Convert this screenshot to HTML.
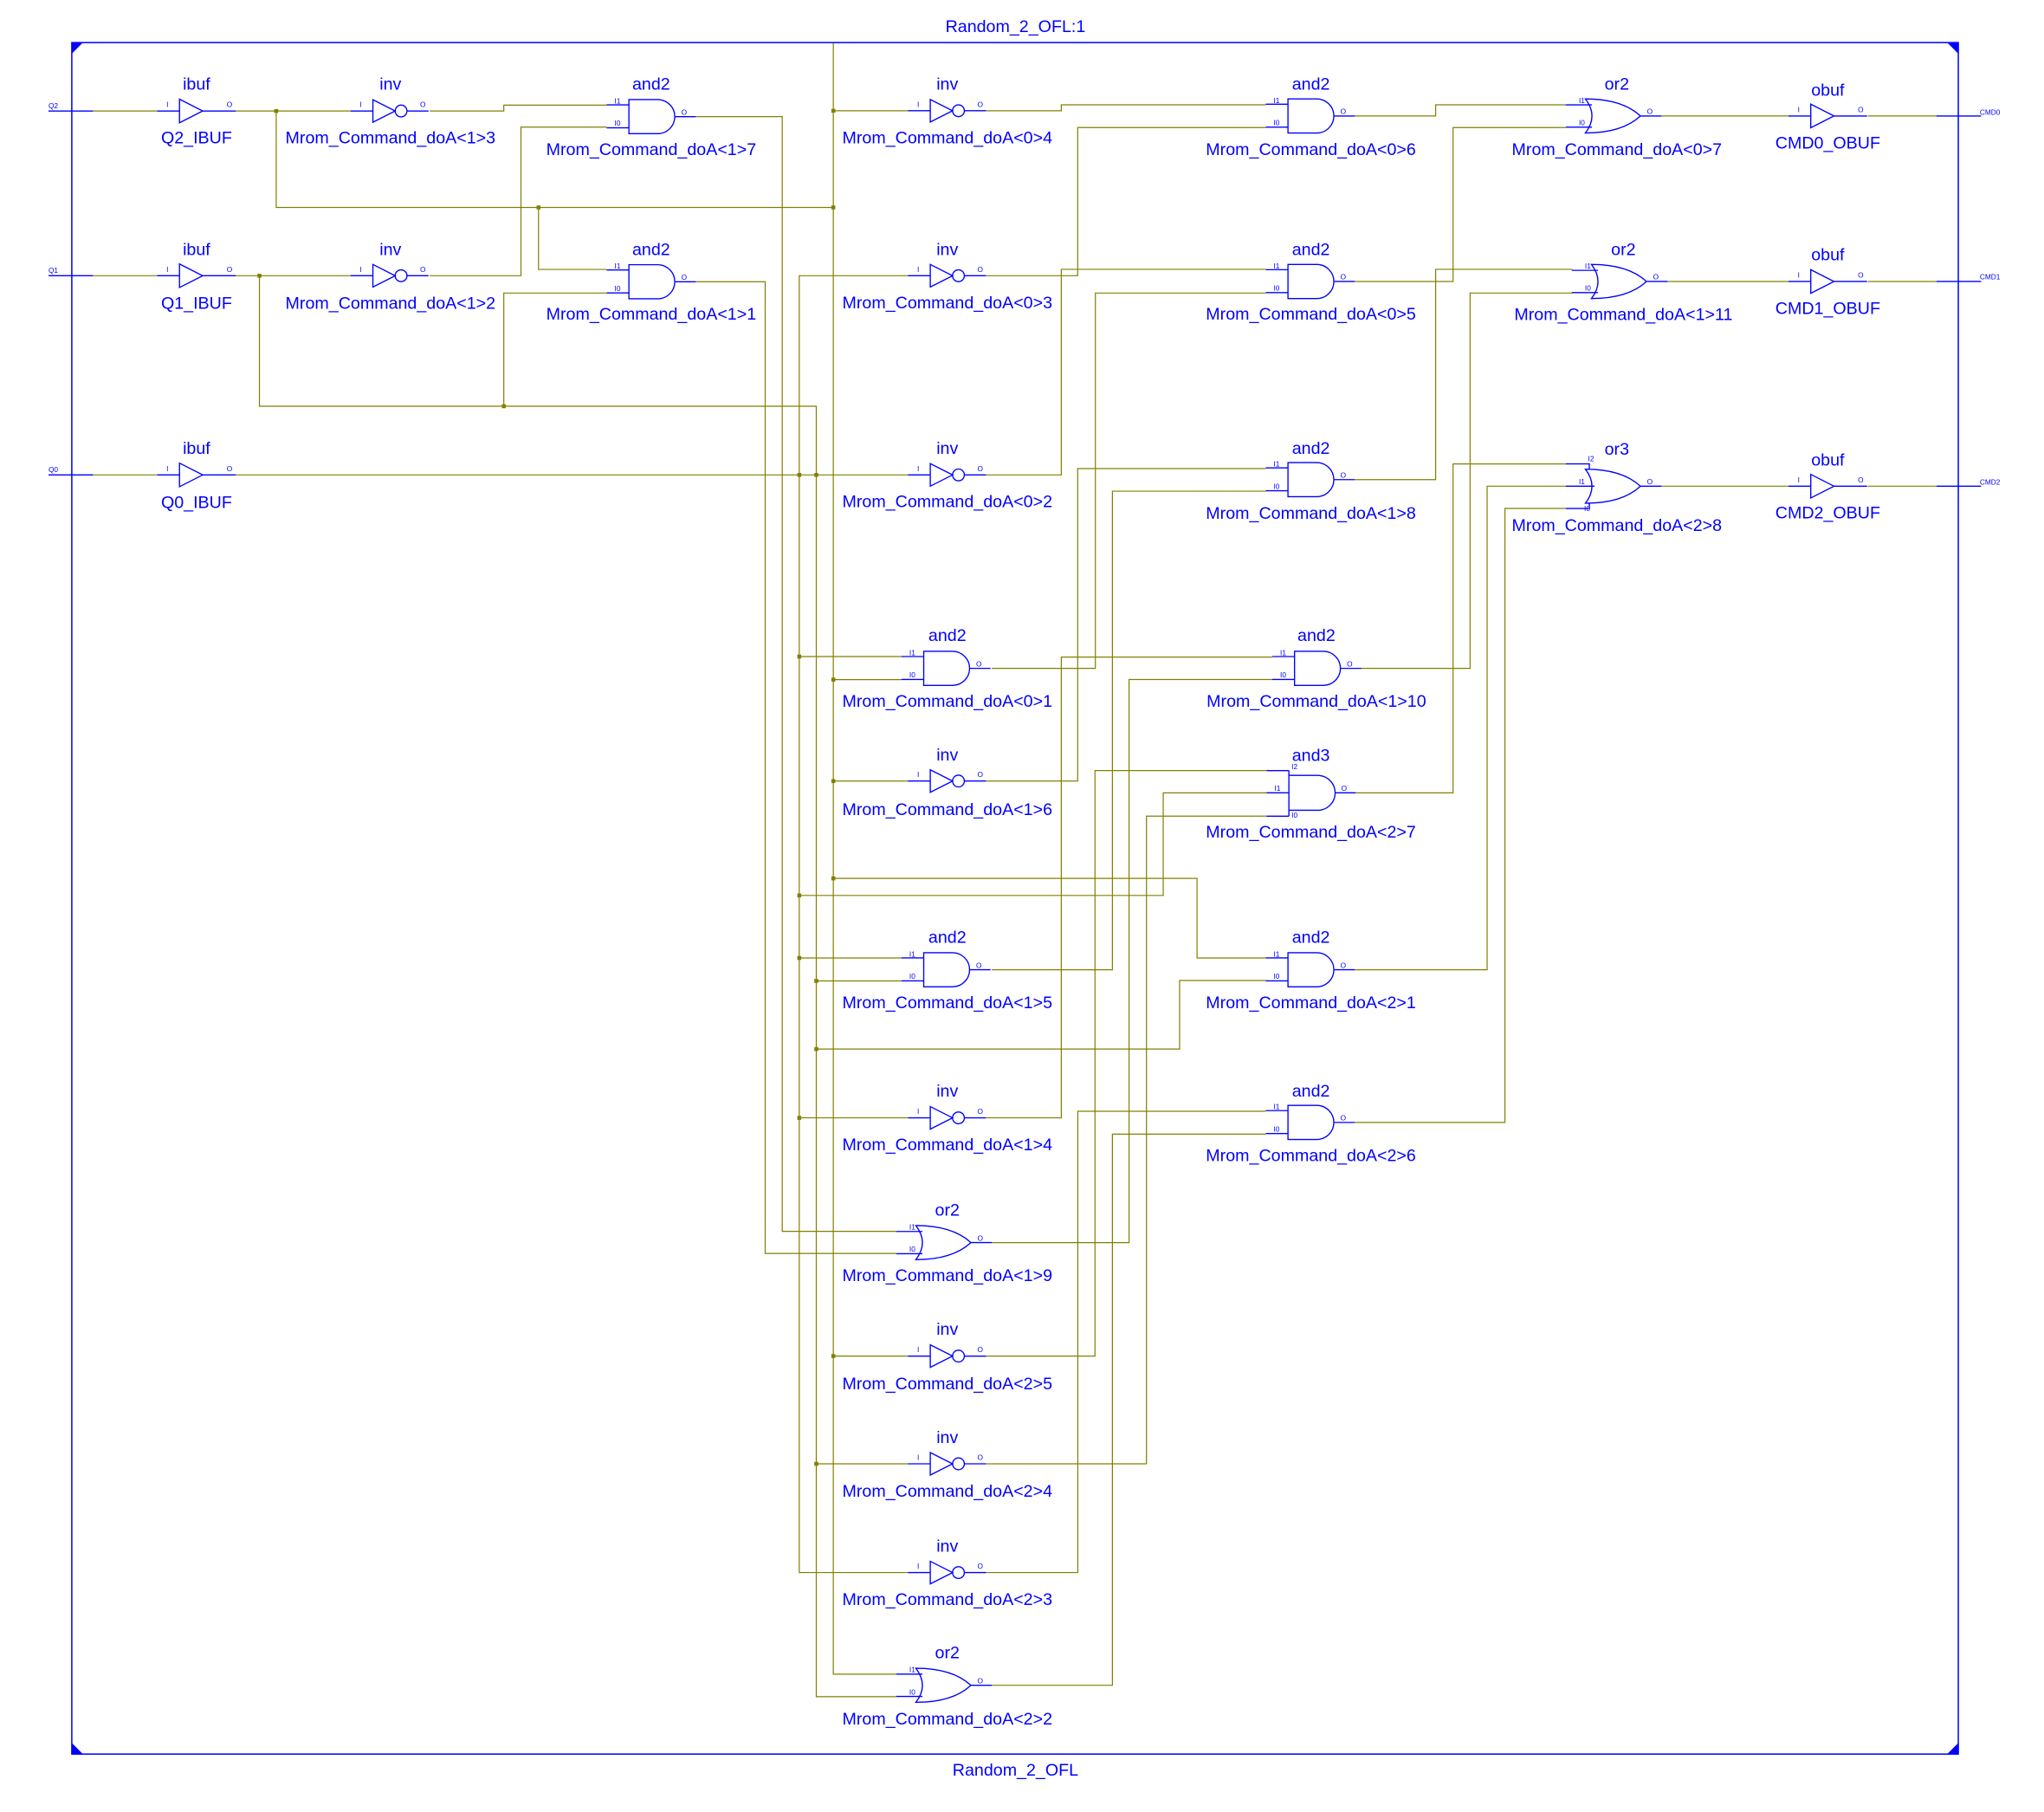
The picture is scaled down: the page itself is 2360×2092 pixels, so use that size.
<!DOCTYPE html>
<html><head><meta charset="utf-8"><style>
html,body{margin:0;padding:0;background:#fff}
svg{display:block}
text{font-family:"Liberation Sans",Arial,sans-serif;fill:#0000ff}
.t{font-size:13px;text-anchor:middle}
.p{font-size:5.5px}
.w{fill:none;stroke:#808000;stroke-width:0.8}
.b{fill:none;stroke:#0000ff;stroke-width:0.9}
.d{fill:#808000}
</style></head><body>
<svg width="2360" height="2092" viewBox="0 0 1560 1382.7" preserveAspectRatio="none" xmlns="http://www.w3.org/2000/svg">
<defs>
<g id="and2"><path class="b" d="M0,-13 H22 A13 13 0 0 1 22,13 H0 Z M-17,-9H0 M-17,8.5H0 M35,0H51"/><text class="p" x="-11" y="-10">I1</text><text class="p" x="-11" y="7">I0</text><text class="p" x="40" y="-1.5">O</text></g>
<g id="and3"><path class="b" d="M0,-13.3 H22 A13.3 13.3 0 0 1 22,13.3 H0 Z M0,-17 V17.8 M-17,-17H0 M-17,0H0 M-17,17.8H0 M35,0H51"/><text class="p" x="2" y="-18">I2</text><text class="p" x="-11" y="-1.5">I1</text><text class="p" x="2" y="19">I0</text><text class="p" x="40" y="-1.5">O</text></g>
<g id="or2"><path class="b" d="M-2,-13 Q8,0 -2,13 Q26,13 40,0 Q26,-13 -2,-13 Z M-17,-8.5H3 M-17,8.5H3 M40,0H56"/><text class="p" x="-7" y="-10">I1</text><text class="p" x="-7" y="7">I0</text><text class="p" x="45" y="-1.5">O</text></g>
<g id="or3"><path class="b" d="M-2,-13 Q8,0 -2,13 Q26,13 40,0 Q26,-13 -2,-13 Z M-17,-17H1V-13 M-17,0H5 M-17,17H1V13 M40,0H56"/><text class="p" x="0" y="-19">I2</text><text class="p" x="-7" y="-1.5">I1</text><text class="p" x="-3" y="19">I0</text><text class="p" x="45" y="-1.5">O</text></g>
<g id="buf"><path class="b" d="M0,-9 L17.7,0 L0,9 Z M-17,0H0 M17.7,0H43"/><text class="p" x="-10" y="-3">I</text><text class="p" x="36" y="-3">O</text></g>
<g id="inv"><path class="b" d="M0,-8.6 L17,0 L0,8.6 Z M-17,0H0 M26,0H42.5"/><circle class="b" cx="21.5" cy="0" r="4.5"/><text class="p" x="-10" y="-3">I</text><text class="p" x="36" y="-3">O</text></g>
</defs>

<!-- frame -->
<rect x="54.8" y="32.5" width="1439.8" height="1306" fill="none" stroke="#0000ff" stroke-width="1"/>
<path fill="#0000ff" d="M54.8,32.5 h8.5 L54.8,41 Z M1494.6,32.5 h-8.5 L1494.6,41 Z M54.8,1338.5 h8.5 L54.8,1330 Z M1494.6,1338.5 h-8.5 L1494.6,1330 Z"/>
<text class="t" x="775" y="24.5">Random_2_OFL:1</text>
<text class="t" x="775" y="1355">Random_2_OFL</text>

<!-- input/output port lines -->
<path class="b" d="M37,84.7H71 M37,210.4H71 M37,362.4H71 M1478,88.5H1512 M1478,214.8H1512 M1478,371H1512"/>
<text class="p" x="37" y="82.5">Q2</text><text class="p" x="37" y="208.2">Q1</text><text class="p" x="37" y="360.2">Q0</text>
<text class="p" x="1511" y="87.5">CMD0</text><text class="p" x="1511" y="213.3">CMD1</text><text class="p" x="1511" y="369.8">CMD2</text>

<!-- wires -->
<path class="w" d="
M71,84.7H120 M71,210.4H120 M71,362.4H120
M180,84.7H267.7 M210.8,84.7V158.3H636 M411,158.3V205.6H463
M636,33V1277.5H684 M636,84.5H693 M636,518.6H688 M636,596H693 M636,670.3H913.6V731H966 M636,1034.8H693
M328,84.7H384.5V80.2H463
M180,210.4H267.7 M198,210.4V310H623V1294.7H684 M384.5,310V223.6H463
M328,210.4H397.6V97H463
M531,89H597V939.6H684
M531,215H584V956.5H684
M180,362.4H693
M693,210.4H610V1200H693 M610,501H688 M610,683.3H887.8V605H966.7 M610,731H688 M610,853H693
M623,748.5H688 M623,800.5H900.3V748.2H966 M623,1117H693
M752.5,84.5H810V80H966
M752.5,210.4H822.5V97.3H966
M752.5,362.4H810V205.5H966
M757,510H836V223.6H966
M752.5,596H822.5V357.6H966
M757,740H849V374.8H966
M752.5,853H810V501.4H971
M757,948.2H861.7V518.5H971
M752.5,1034.8H835.7V588H966.7
M752.5,1117H875V622.8H966.7
M752.5,1200H822.6V848H966
M757,1286H849V865.4H966
M1034,88.5H1095.7V80H1195
M1034,214.8H1109V97.3H1195
M1034,366H1095.7V205.5H1200
M1039,510H1122V223.6H1200
M1034.7,605H1109V354H1195
M1034,740H1135V371H1195
M1034,856.5H1148.6V388H1195
M1268,88.5H1365 M1272.6,214.8H1365 M1268,371H1365
M1425.6,88.5H1478 M1425.6,214.8H1478 M1425.6,371H1478
"/>
<g class="d">
<rect x="209.3" y="83.2" width="3" height="3"/><rect x="409.5" y="156.8" width="3" height="3"/><rect x="634.5" y="156.8" width="3" height="3"/>
<rect x="634.5" y="83" width="3" height="3"/><rect x="634.5" y="517.1" width="3" height="3"/><rect x="634.5" y="594.5" width="3" height="3"/>
<rect x="634.5" y="668.8" width="3" height="3"/><rect x="634.5" y="1033.3" width="3" height="3"/>
<rect x="196.5" y="208.9" width="3" height="3"/><rect x="383" y="308.5" width="3" height="3"/>
<rect x="608.5" y="360.9" width="3" height="3"/><rect x="621.5" y="360.9" width="3" height="3"/>
<rect x="608.5" y="499.5" width="3" height="3"/><rect x="608.5" y="681.8" width="3" height="3"/><rect x="608.5" y="729.5" width="3" height="3"/><rect x="608.5" y="851.5" width="3" height="3"/>
<rect x="621.5" y="747" width="3" height="3"/><rect x="621.5" y="799" width="3" height="3"/><rect x="621.5" y="1115.5" width="3" height="3"/>
</g>

<!-- column 1 -->
<use href="#buf" x="137" y="84.7"/><text class="t" x="150" y="68.5">ibuf</text><text class="t" x="150" y="109.5">Q2_IBUF</text>
<use href="#buf" x="137" y="210.4"/><text class="t" x="150" y="194.5">ibuf</text><text class="t" x="150" y="235.5">Q1_IBUF</text>
<use href="#buf" x="137" y="362.4"/><text class="t" x="150" y="346.5">ibuf</text><text class="t" x="150" y="387.5">Q0_IBUF</text>
<use href="#inv" x="284.6" y="84.7"/><text class="t" x="298" y="68.5">inv</text><text class="t" x="298" y="109.5">Mrom_Command_doA&lt;1&gt;3</text>
<use href="#inv" x="284.6" y="210.4"/><text class="t" x="298" y="194.5">inv</text><text class="t" x="298" y="235.5">Mrom_Command_doA&lt;1&gt;2</text>
<use href="#and2" x="480" y="89"/><text class="t" x="497" y="68.5">and2</text><text class="t" x="497" y="118.3">Mrom_Command_doA&lt;1&gt;7</text>
<use href="#and2" x="480" y="215"/><text class="t" x="497" y="194.5">and2</text><text class="t" x="497" y="244">Mrom_Command_doA&lt;1&gt;1</text>

<!-- column 2 -->
<use href="#inv" x="710" y="84.5"/><text class="t" x="723" y="68.5">inv</text><text class="t" x="723" y="109.5">Mrom_Command_doA&lt;0&gt;4</text>
<use href="#inv" x="710" y="210.4"/><text class="t" x="723" y="194.5">inv</text><text class="t" x="723" y="235.4">Mrom_Command_doA&lt;0&gt;3</text>
<use href="#inv" x="710" y="362.4"/><text class="t" x="723" y="346.5">inv</text><text class="t" x="723" y="387">Mrom_Command_doA&lt;0&gt;2</text>
<use href="#and2" x="705" y="510"/><text class="t" x="723" y="489.2">and2</text><text class="t" x="723" y="539.3">Mrom_Command_doA&lt;0&gt;1</text>
<use href="#inv" x="710" y="596"/><text class="t" x="723" y="580.3">inv</text><text class="t" x="723" y="622">Mrom_Command_doA&lt;1&gt;6</text>
<use href="#and2" x="705" y="740"/><text class="t" x="723" y="719.4">and2</text><text class="t" x="723" y="769.5">Mrom_Command_doA&lt;1&gt;5</text>
<use href="#inv" x="710" y="853"/><text class="t" x="723" y="836.8">inv</text><text class="t" x="723" y="877.8">Mrom_Command_doA&lt;1&gt;4</text>
<use href="#or2" x="701" y="948.2"/><text class="t" x="723" y="927.5">or2</text><text class="t" x="723" y="977.7">Mrom_Command_doA&lt;1&gt;9</text>
<use href="#inv" x="710" y="1034.8"/><text class="t" x="723" y="1018.6">inv</text><text class="t" x="723" y="1060">Mrom_Command_doA&lt;2&gt;5</text>
<use href="#inv" x="710" y="1117"/><text class="t" x="723" y="1101">inv</text><text class="t" x="723" y="1142">Mrom_Command_doA&lt;2&gt;4</text>
<use href="#inv" x="710" y="1200"/><text class="t" x="723" y="1184">inv</text><text class="t" x="723" y="1224.7">Mrom_Command_doA&lt;2&gt;3</text>
<use href="#or2" x="701" y="1286"/><text class="t" x="723" y="1265.4">or2</text><text class="t" x="723" y="1315.8">Mrom_Command_doA&lt;2&gt;2</text>

<!-- column 3 -->
<use href="#and2" x="983" y="88.5"/><text class="t" x="1000.5" y="68.5">and2</text><text class="t" x="1000.5" y="118.3">Mrom_Command_doA&lt;0&gt;6</text>
<use href="#and2" x="983" y="214.8"/><text class="t" x="1000.5" y="194.5">and2</text><text class="t" x="1000.5" y="243.8">Mrom_Command_doA&lt;0&gt;5</text>
<use href="#and2" x="983" y="366"/><text class="t" x="1000.5" y="346.5">and2</text><text class="t" x="1000.5" y="395.9">Mrom_Command_doA&lt;1&gt;8</text>
<use href="#and2" x="988" y="510"/><text class="t" x="1004.7" y="489.2">and2</text><text class="t" x="1004.7" y="539.3">Mrom_Command_doA&lt;1&gt;10</text>
<use href="#and3" x="983.7" y="605"/><text class="t" x="1000.5" y="580.7">and3</text><text class="t" x="1000.5" y="639">Mrom_Command_doA&lt;2&gt;7</text>
<use href="#and2" x="983" y="740"/><text class="t" x="1000.5" y="719.4">and2</text><text class="t" x="1000.5" y="769.5">Mrom_Command_doA&lt;2&gt;1</text>
<use href="#and2" x="983" y="856.5"/><text class="t" x="1000.5" y="836.8">and2</text><text class="t" x="1000.5" y="886.1">Mrom_Command_doA&lt;2&gt;6</text>

<!-- column 4 -->
<use href="#or2" x="1212" y="88.5"/><text class="t" x="1234" y="68.5">or2</text><text class="t" x="1234" y="118.3">Mrom_Command_doA&lt;0&gt;7</text>
<use href="#or2" x="1216.6" y="214.8"/><text class="t" x="1239" y="194.5">or2</text><text class="t" x="1239" y="244.3">Mrom_Command_doA&lt;1&gt;11</text>
<use href="#or3" x="1212" y="371"/><text class="t" x="1234" y="347">or3</text><text class="t" x="1234" y="405">Mrom_Command_doA&lt;2&gt;8</text>

<!-- column 5 -->
<use href="#buf" x="1382" y="88.5"/><text class="t" x="1395" y="73">obuf</text><text class="t" x="1395" y="113.5">CMD0_OBUF</text>
<use href="#buf" x="1382" y="214.8"/><text class="t" x="1395" y="198.5">obuf</text><text class="t" x="1395" y="239.5">CMD1_OBUF</text>
<use href="#buf" x="1382" y="371"/><text class="t" x="1395" y="355.2">obuf</text><text class="t" x="1395" y="395.5">CMD2_OBUF</text>
</svg>
</body></html>
